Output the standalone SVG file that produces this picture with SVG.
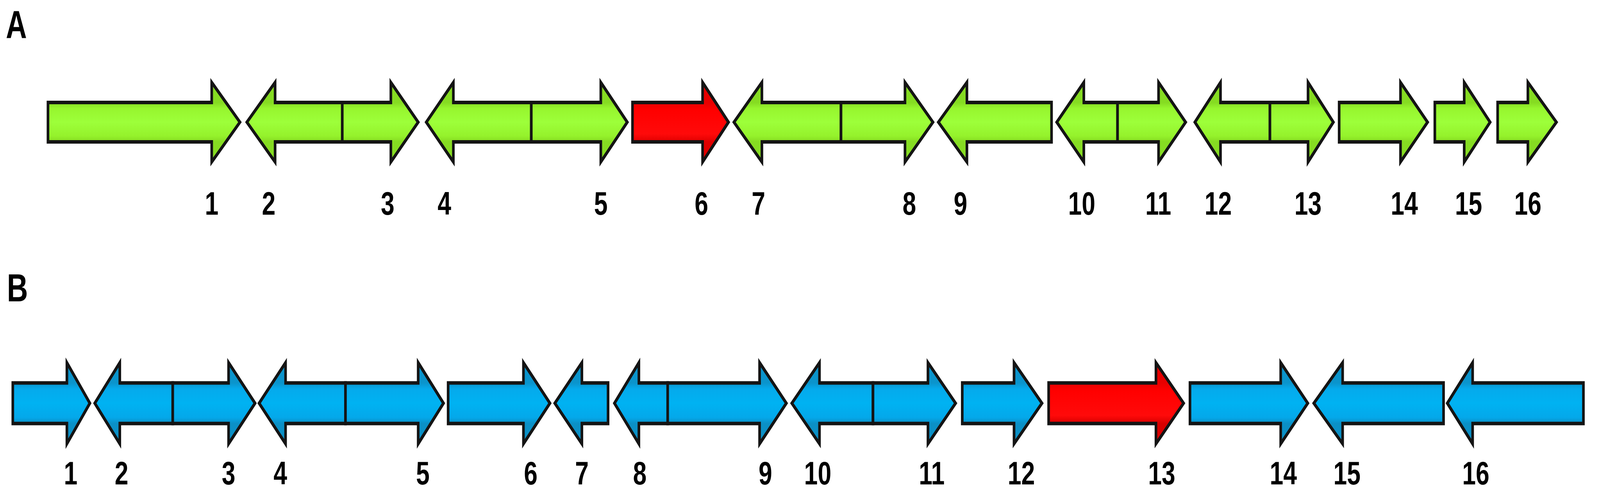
<svg xmlns="http://www.w3.org/2000/svg" width="5502" height="1263" viewBox="0 0 5502 1263" preserveAspectRatio="none" style="width:100%;height:100%">
<defs>
<linearGradient id="gA" gradientUnits="userSpaceOnUse" x1="0" y1="263" x2="0" y2="363">
<stop offset="0" stop-color="#86dc22"/><stop offset="0.15" stop-color="#97f62e"/><stop offset="0.5" stop-color="#9dff3a"/><stop offset="0.85" stop-color="#95f22c"/><stop offset="1" stop-color="#86dc22"/>
</linearGradient>
<linearGradient id="rA" gradientUnits="userSpaceOnUse" x1="0" y1="263" x2="0" y2="363">
<stop offset="0" stop-color="#e80000"/><stop offset="0.2" stop-color="#ff0000"/><stop offset="0.8" stop-color="#ff0a0a"/><stop offset="1" stop-color="#e00000"/>
</linearGradient>
<linearGradient id="bB" gradientUnits="userSpaceOnUse" x1="0" y1="981" x2="0" y2="1085">
<stop offset="0" stop-color="#0b94cc"/><stop offset="0.15" stop-color="#05aaec"/><stop offset="0.5" stop-color="#00b2f2"/><stop offset="0.85" stop-color="#04a8ea"/><stop offset="1" stop-color="#0b90c6"/>
</linearGradient>
<linearGradient id="rB" gradientUnits="userSpaceOnUse" x1="0" y1="981" x2="0" y2="1085">
<stop offset="0" stop-color="#e80000"/><stop offset="0.2" stop-color="#ff0000"/><stop offset="0.8" stop-color="#ff0a0a"/><stop offset="1" stop-color="#d80000"/>
</linearGradient>
</defs>
<style>
.g path{stroke:#141414;stroke-width:9;stroke-linejoin:miter;stroke-miterlimit:10}
.ga path{fill:url(#gA)}
.ra path{fill:url(#rA)}
.bb path{fill:url(#bB)}
.rb path{fill:url(#rB)}
.lbl{font-family:"Liberation Sans",Arial,sans-serif;font-weight:bold;font-size:84px;fill:#000;text-anchor:middle}
.pan{font-family:"Liberation Sans",Arial,sans-serif;font-weight:bold;font-size:100px;fill:#000}
</style>
<rect width="5502" height="1263" fill="#ffffff"/>
<text class="pan" x="20" y="98">A</text>
<text class="pan" x="24" y="772">B</text>
<g id="rowA">
<g id="A1" class="g ga"><path d="M165,262.5 L728,262.5 L728,211 L825,313 L728,415 L728,363.5 L165,363.5 Z"/></g>
<g id="A2" class="g ga"><path d="M1177,262.5 L946,262.5 L946,211 L849,313 L946,415 L946,363.5 L1177,363.5 Z"/></g>
<g id="A3" class="g ga"><path d="M1177,262.5 L1344,262.5 L1344,211 L1438,313 L1344,415 L1344,363.5 L1177,363.5 Z"/></g>
<g id="A4" class="g ga"><path d="M1827,262.5 L1559,262.5 L1559,211 L1466,313 L1559,415 L1559,363.5 L1827,363.5 Z"/></g>
<g id="A5" class="g ga"><path d="M1827,262.5 L2066,262.5 L2066,211 L2157,313 L2066,415 L2066,363.5 L1827,363.5 Z"/></g>
<g id="A6" class="g ra"><path d="M2175,262.5 L2416,262.5 L2416,211 L2505,313 L2416,415 L2416,363.5 L2175,363.5 Z"/></g>
<g id="A7" class="g ga"><path d="M2892,262.5 L2620,262.5 L2620,211 L2524,313 L2620,415 L2620,363.5 L2892,363.5 Z"/></g>
<g id="A8" class="g ga"><path d="M2892,262.5 L3112,262.5 L3112,211 L3208,313 L3112,415 L3112,363.5 L2892,363.5 Z"/></g>
<g id="A9" class="g ga"><path d="M3616,262.5 L3325,262.5 L3325,211 L3227,313 L3325,415 L3325,363.5 L3616,363.5 Z"/></g>
<g id="A10" class="g ga"><path d="M3843,262.5 L3727,262.5 L3727,211 L3634,313 L3727,415 L3727,363.5 L3843,363.5 Z"/></g>
<g id="A11" class="g ga"><path d="M3843,262.5 L3984,262.5 L3984,211 L4077,313 L3984,415 L3984,363.5 L3843,363.5 Z"/></g>
<g id="A12" class="g ga"><path d="M4367,262.5 L4197,262.5 L4197,211 L4109,313 L4197,415 L4197,363.5 L4367,363.5 Z"/></g>
<g id="A13" class="g ga"><path d="M4367,262.5 L4498,262.5 L4498,211 L4585,313 L4498,415 L4498,363.5 L4367,363.5 Z"/></g>
<g id="A14" class="g ga"><path d="M4605,262.5 L4816,262.5 L4816,211 L4909,313 L4816,415 L4816,363.5 L4605,363.5 Z"/></g>
<g id="A15" class="g ga"><path d="M4934,262.5 L5035,262.5 L5035,211 L5124,313 L5035,415 L5035,363.5 L4934,363.5 Z"/></g>
<g id="A16" class="g ga"><path d="M5150,262.5 L5254,262.5 L5254,211 L5352,313 L5254,415 L5254,363.5 L5150,363.5 Z"/></g>
</g>
<g id="labelsA">
<text class="lbl" x="728" y="550">1</text>
<text class="lbl" x="924" y="550">2</text>
<text class="lbl" x="1333" y="550">3</text>
<text class="lbl" x="1528" y="550">4</text>
<text class="lbl" x="2066" y="550">5</text>
<text class="lbl" x="2412" y="550">6</text>
<text class="lbl" x="2608" y="550">7</text>
<text class="lbl" x="3127" y="550">8</text>
<text class="lbl" x="3303" y="550">9</text>
<text class="lbl" x="3720" y="550">10</text>
<text class="lbl" x="3983" y="550">11</text>
<text class="lbl" x="4189" y="550">12</text>
<text class="lbl" x="4498" y="550">13</text>
<text class="lbl" x="4829" y="550">14</text>
<text class="lbl" x="5050" y="550">15</text>
<text class="lbl" x="5254" y="550">16</text>
</g>
<g id="rowB">
<g id="B1" class="g bb"><path d="M44,981 L230,981 L230,929 L309,1033 L230,1137 L230,1085 L44,1085 Z"/></g>
<g id="B2" class="g bb"><path d="M594,981 L412,981 L412,929 L326,1033 L412,1137 L412,1085 L594,1085 Z"/></g>
<g id="B3" class="g bb"><path d="M594,981 L786,981 L786,929 L877,1033 L786,1137 L786,1085 L594,1085 Z"/></g>
<g id="B4" class="g bb"><path d="M1188,981 L982,981 L982,929 L891,1033 L982,1137 L982,1085 L1188,1085 Z"/></g>
<g id="B5" class="g bb"><path d="M1188,981 L1438,981 L1438,929 L1525,1033 L1438,1137 L1438,1085 L1188,1085 Z"/></g>
<g id="B6" class="g bb"><path d="M1541,981 L1800,981 L1800,929 L1891,1033 L1800,1137 L1800,1085 L1541,1085 Z"/></g>
<g id="B7" class="g bb"><path d="M2091,981 L2001,981 L2001,929 L1908,1033 L2001,1137 L2001,1085 L2091,1085 Z"/></g>
<g id="B8" class="g bb"><path d="M2296,981 L2197,981 L2197,929 L2113,1033 L2197,1137 L2197,1085 L2296,1085 Z"/></g>
<g id="B9" class="g bb"><path d="M2296,981 L2612,981 L2612,929 L2704,1033 L2612,1137 L2612,1085 L2296,1085 Z"/></g>
<g id="B10" class="g bb"><path d="M3002,981 L2818,981 L2818,929 L2723,1033 L2818,1137 L2818,1085 L3002,1085 Z"/></g>
<g id="B11" class="g bb"><path d="M3002,981 L3191,981 L3191,929 L3286,1033 L3191,1137 L3191,1085 L3002,1085 Z"/></g>
<g id="B12" class="g bb"><path d="M3309,981 L3487,981 L3487,929 L3583,1033 L3487,1137 L3487,1085 L3309,1085 Z"/></g>
<g id="B13" class="g rb"><path d="M3606,981 L3975,981 L3975,929 L4070,1033 L3975,1137 L3975,1085 L3606,1085 Z"/></g>
<g id="B14" class="g bb"><path d="M4092,981 L4404,981 L4404,929 L4497,1033 L4404,1137 L4404,1085 L4092,1085 Z"/></g>
<g id="B15" class="g bb"><path d="M4964,981 L4617,981 L4617,929 L4518,1033 L4617,1137 L4617,1085 L4964,1085 Z"/></g>
<g id="B16" class="g bb"><path d="M5445,981 L5064,981 L5064,929 L4977,1033 L5064,1137 L5064,1085 L5445,1085 Z"/></g>
</g>
<g id="labelsB">
<text class="lbl" x="243" y="1241">1</text>
<text class="lbl" x="418" y="1241">2</text>
<text class="lbl" x="786" y="1241">3</text>
<text class="lbl" x="964" y="1241">4</text>
<text class="lbl" x="1454" y="1241">5</text>
<text class="lbl" x="1825" y="1241">6</text>
<text class="lbl" x="2001" y="1241">7</text>
<text class="lbl" x="2200" y="1241">8</text>
<text class="lbl" x="2632" y="1241">9</text>
<text class="lbl" x="2812" y="1241">10</text>
<text class="lbl" x="3204" y="1241">11</text>
<text class="lbl" x="3512" y="1241">12</text>
<text class="lbl" x="3995" y="1241">13</text>
<text class="lbl" x="4413" y="1241">14</text>
<text class="lbl" x="4632" y="1241">15</text>
<text class="lbl" x="5075" y="1241">16</text>
</g>
<g id="connectors"/>
</svg>
